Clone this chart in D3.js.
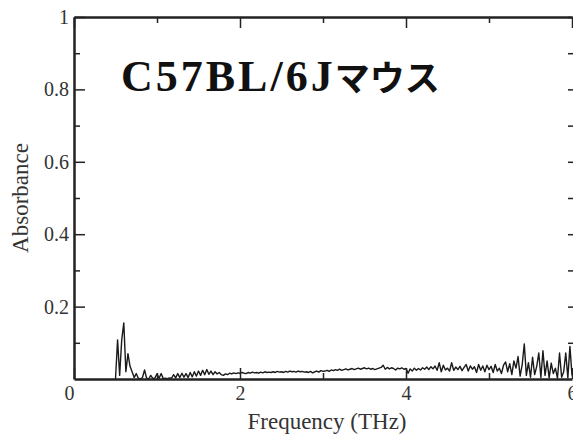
<!DOCTYPE html>
<html>
<head>
<meta charset="utf-8">
<script src="https://cdn.jsdelivr.net/npm/d3@7"></script>
<style>
  body { margin: 0; background: #fff; }
  svg { display: block; }
</style>
</head>
<body>
<figure style="margin:0"></figure>
<script>
// ---- data ----
const freqStart = 0.5   // THz, first sample
const freqStep = 0.025  // THz between samples
const absorbance = [
  // 0.5 - 0.9
  0, 0.108, 0.01, 0.108, 0.155, 0.02, 0.07, 0.035, 0.02, 0.004, 0.015, 0.002, 0, 0.004, 0.025, 0.002, 0,
  // 0.925 - 1.5
  0.01, 0.001, 0.003, 0.014, 0.002, 0.015, 0.001, 0.002, 0.001, 0.003, 0.002, 0.012,
  0.003, 0.015, 0.004, 0.016, 0.005, 0.015, 0.004, 0.018, 0.006, 0.02, 0.008, 0.022,
  // 1.525 - 2.0
  0.01, 0.024, 0.012, 0.026, 0.013, 0.022, 0.012, 0.02, 0.014, 0.018,
  0.012, 0.01, 0.014, 0.012, 0.016, 0.014, 0.017, 0.015, 0.017, 0.016,
  // 2.025 - 3.0
  0.018, 0.016, 0.015, 0.018, 0.016, 0.019, 0.017, 0.018, 0.016, 0.019,
  0.017, 0.02, 0.018, 0.019, 0.018, 0.02, 0.018, 0.021, 0.019, 0.02,
  0.018, 0.021, 0.019, 0.022, 0.02, 0.021, 0.019, 0.022, 0.02, 0.021,
  0.019, 0.02, 0.018, 0.021, 0.017, 0.02, 0.022, 0.019, 0.023, 0.021,
  // 3.025 - 4.0
  0.022, 0.024, 0.021, 0.025, 0.023, 0.026, 0.024, 0.027, 0.024, 0.026,
  0.028, 0.025, 0.027, 0.029, 0.026, 0.028, 0.03, 0.027, 0.029, 0.031,
  0.028, 0.03, 0.027, 0.029, 0.026, 0.028, 0.03, 0.032, 0.038, 0.027,
  0.032, 0.028, 0.031, 0.029, 0.025, 0.03, 0.028, 0.031, 0.027, 0.029,
  // 4.025 - 5.0
  0.016, 0.028, 0.022, 0.03, 0.024, 0.029, 0.025, 0.031, 0.027, 0.033,
  0.026, 0.034, 0.028, 0.036, 0.024, 0.045, 0.02, 0.038, 0.025, 0.03,
  0.022, 0.045, 0.024, 0.033, 0.026, 0.035, 0.023, 0.032, 0.04, 0.022,
  0.036, 0.027, 0.034, 0.018, 0.04, 0.024, 0.036, 0.02, 0.038, 0.026,
  // 5.025 - 6.0
  0.035, 0.018, 0.04, 0.022, 0.03, 0.015, 0.038, 0.047, 0.02, 0.042,
  0.012, 0.05, 0.03, 0.062, 0.008, 0.04, 0.097, 0.01, 0.045, 0.005,
  0.06, 0.012, 0.035, 0.072, 0.004, 0.078, 0.01, 0.05, 0.003, 0.044,
  0.015, 0.03, 0.002, 0.072, 0.005, 0.02, 0.072, 0.003, 0.09, 0.01
]
const xMajor = [0, 2, 4, 6]
const xMinor = [1, 3, 5]
const yMajor = [0.2, 0.4, 0.6, 0.8, 1]
const yMinor = [0.1, 0.3, 0.5, 0.7, 0.9]
const titleLatin = 'C57BL/6J'
const titleKana = 'マウス'

// ---- svg setup ----
const svgWidth = 573
const svgHeight = 434
const margin = { left: 74, right: 1, top: 17, bottom: 55 }

const svg = d3.select('figure')
  .append('svg')
  .attr('width', svgWidth)
  .attr('height', svgHeight)

const x = d3.scaleLinear()
  .domain([0, 6])
  .range([margin.left, svgWidth - margin.right])

const y = d3.scaleLinear()
  .domain([0, 1])
  .range([svgHeight - margin.bottom, margin.top])

const points = absorbance.map((v, i) => [freqStart + i * freqStep, v])

// ---- line ----
svg.append('path')
  .datum(points)
  .attr('fill', 'none')
  .attr('stroke', '#1a1a1a')
  .attr('stroke-width', 1.4)
  .attr('stroke-linejoin', 'round')
  .attr('d', d3.line().x(d => x(d[0])).y(d => y(d[1])))

// ---- axes ----
const serif = "'Liberation Serif', 'Times New Roman', serif"

function styleAxis(g, hideDomain) {
  g.select('.domain')
    .attr('stroke', hideDomain ? 'none' : '#222')
    .attr('stroke-width', 2.5)
  g.selectAll('.tick line').attr('stroke', '#222').attr('stroke-width', 1.5)
  g.selectAll('.tick text')
    .attr('fill', '#333')
    .style('font-family', serif)
    .style('font-size', '20px')
}

// bottom
svg.append('g')
  .attr('transform', `translate(0,${y(0)})`)
  .call(d3.axisBottom(x).tickValues(xMinor).tickSizeInner(-6).tickSizeOuter(0).tickFormat(''))
  .call(g => styleAxis(g, true))
const bottom = svg.append('g')
  .attr('transform', `translate(0,${y(0)})`)
  .call(d3.axisBottom(x).tickValues(xMajor).tickSizeInner(-11).tickSizeOuter(0).tickPadding(7).tickFormat(d3.format('d')))
  .call(g => styleAxis(g, false))
bottom.selectAll('.tick text').filter(d => d === 0).attr('dx', -5)

// top
svg.append('g')
  .attr('transform', `translate(0,${y(1)})`)
  .call(d3.axisTop(x).tickValues(xMinor).tickSizeInner(-6).tickSizeOuter(0).tickFormat(''))
  .call(g => styleAxis(g, true))
svg.append('g')
  .attr('transform', `translate(0,${y(1)})`)
  .call(d3.axisTop(x).tickValues(xMajor).tickSizeInner(-11).tickSizeOuter(0).tickFormat(''))
  .call(g => styleAxis(g, false))

// left
svg.append('g')
  .attr('transform', `translate(${x(0)},0)`)
  .call(d3.axisLeft(y).tickValues(yMinor).tickSizeInner(-6).tickSizeOuter(0).tickFormat(''))
  .call(g => styleAxis(g, true))
svg.append('g')
  .attr('transform', `translate(${x(0)},0)`)
  .call(d3.axisLeft(y).tickValues(yMajor).tickSizeInner(-11).tickSizeOuter(0).tickPadding(5).tickFormat(d => d))
  .call(g => styleAxis(g, false))

// right (frame line falls just outside the picture)
svg.append('g')
  .attr('transform', `translate(${x(6) + 1},0)`)
  .call(d3.axisRight(y).tickValues(yMinor).tickSizeInner(-5).tickSizeOuter(0).tickFormat(''))
  .call(g => styleAxis(g, true))
svg.append('g')
  .attr('transform', `translate(${x(6) + 1},0)`)
  .call(d3.axisRight(y).tickValues(yMajor).tickSizeInner(-5).tickSizeOuter(0).tickFormat(''))
  .call(g => styleAxis(g, true))

// ---- labels ----
svg.append('text')
  .attr('x', 327)
  .attr('y', 429)
  .attr('text-anchor', 'middle')
  .style('font-family', serif)
  .style('font-size', '23px')
  .style('fill', '#333')
  .text('Frequency (THz)')

svg.append('text')
  .attr('transform', 'translate(28,198) rotate(-90)')
  .attr('text-anchor', 'middle')
  .style('font-family', serif)
  .style('font-size', '23px')
  .style('fill', '#333')
  .text('Absorbance')

const title = svg.append('text')
  .attr('x', 121)
  .attr('y', 91)
  .style('fill', '#111')
title.append('tspan')
  .style('font-family', serif)
  .style('font-weight', 'bold')
  .style('font-size', '44px')
  .style('letter-spacing', '3px')
  .text(titleLatin)
title.append('tspan')
  .attr('dx', -1)
  .style('font-family', "'Noto Sans CJK JP', sans-serif")
  .style('font-weight', 'bold')
  .style('font-size', '35px')
  .text(titleKana)
</script>
</body>
</html>
